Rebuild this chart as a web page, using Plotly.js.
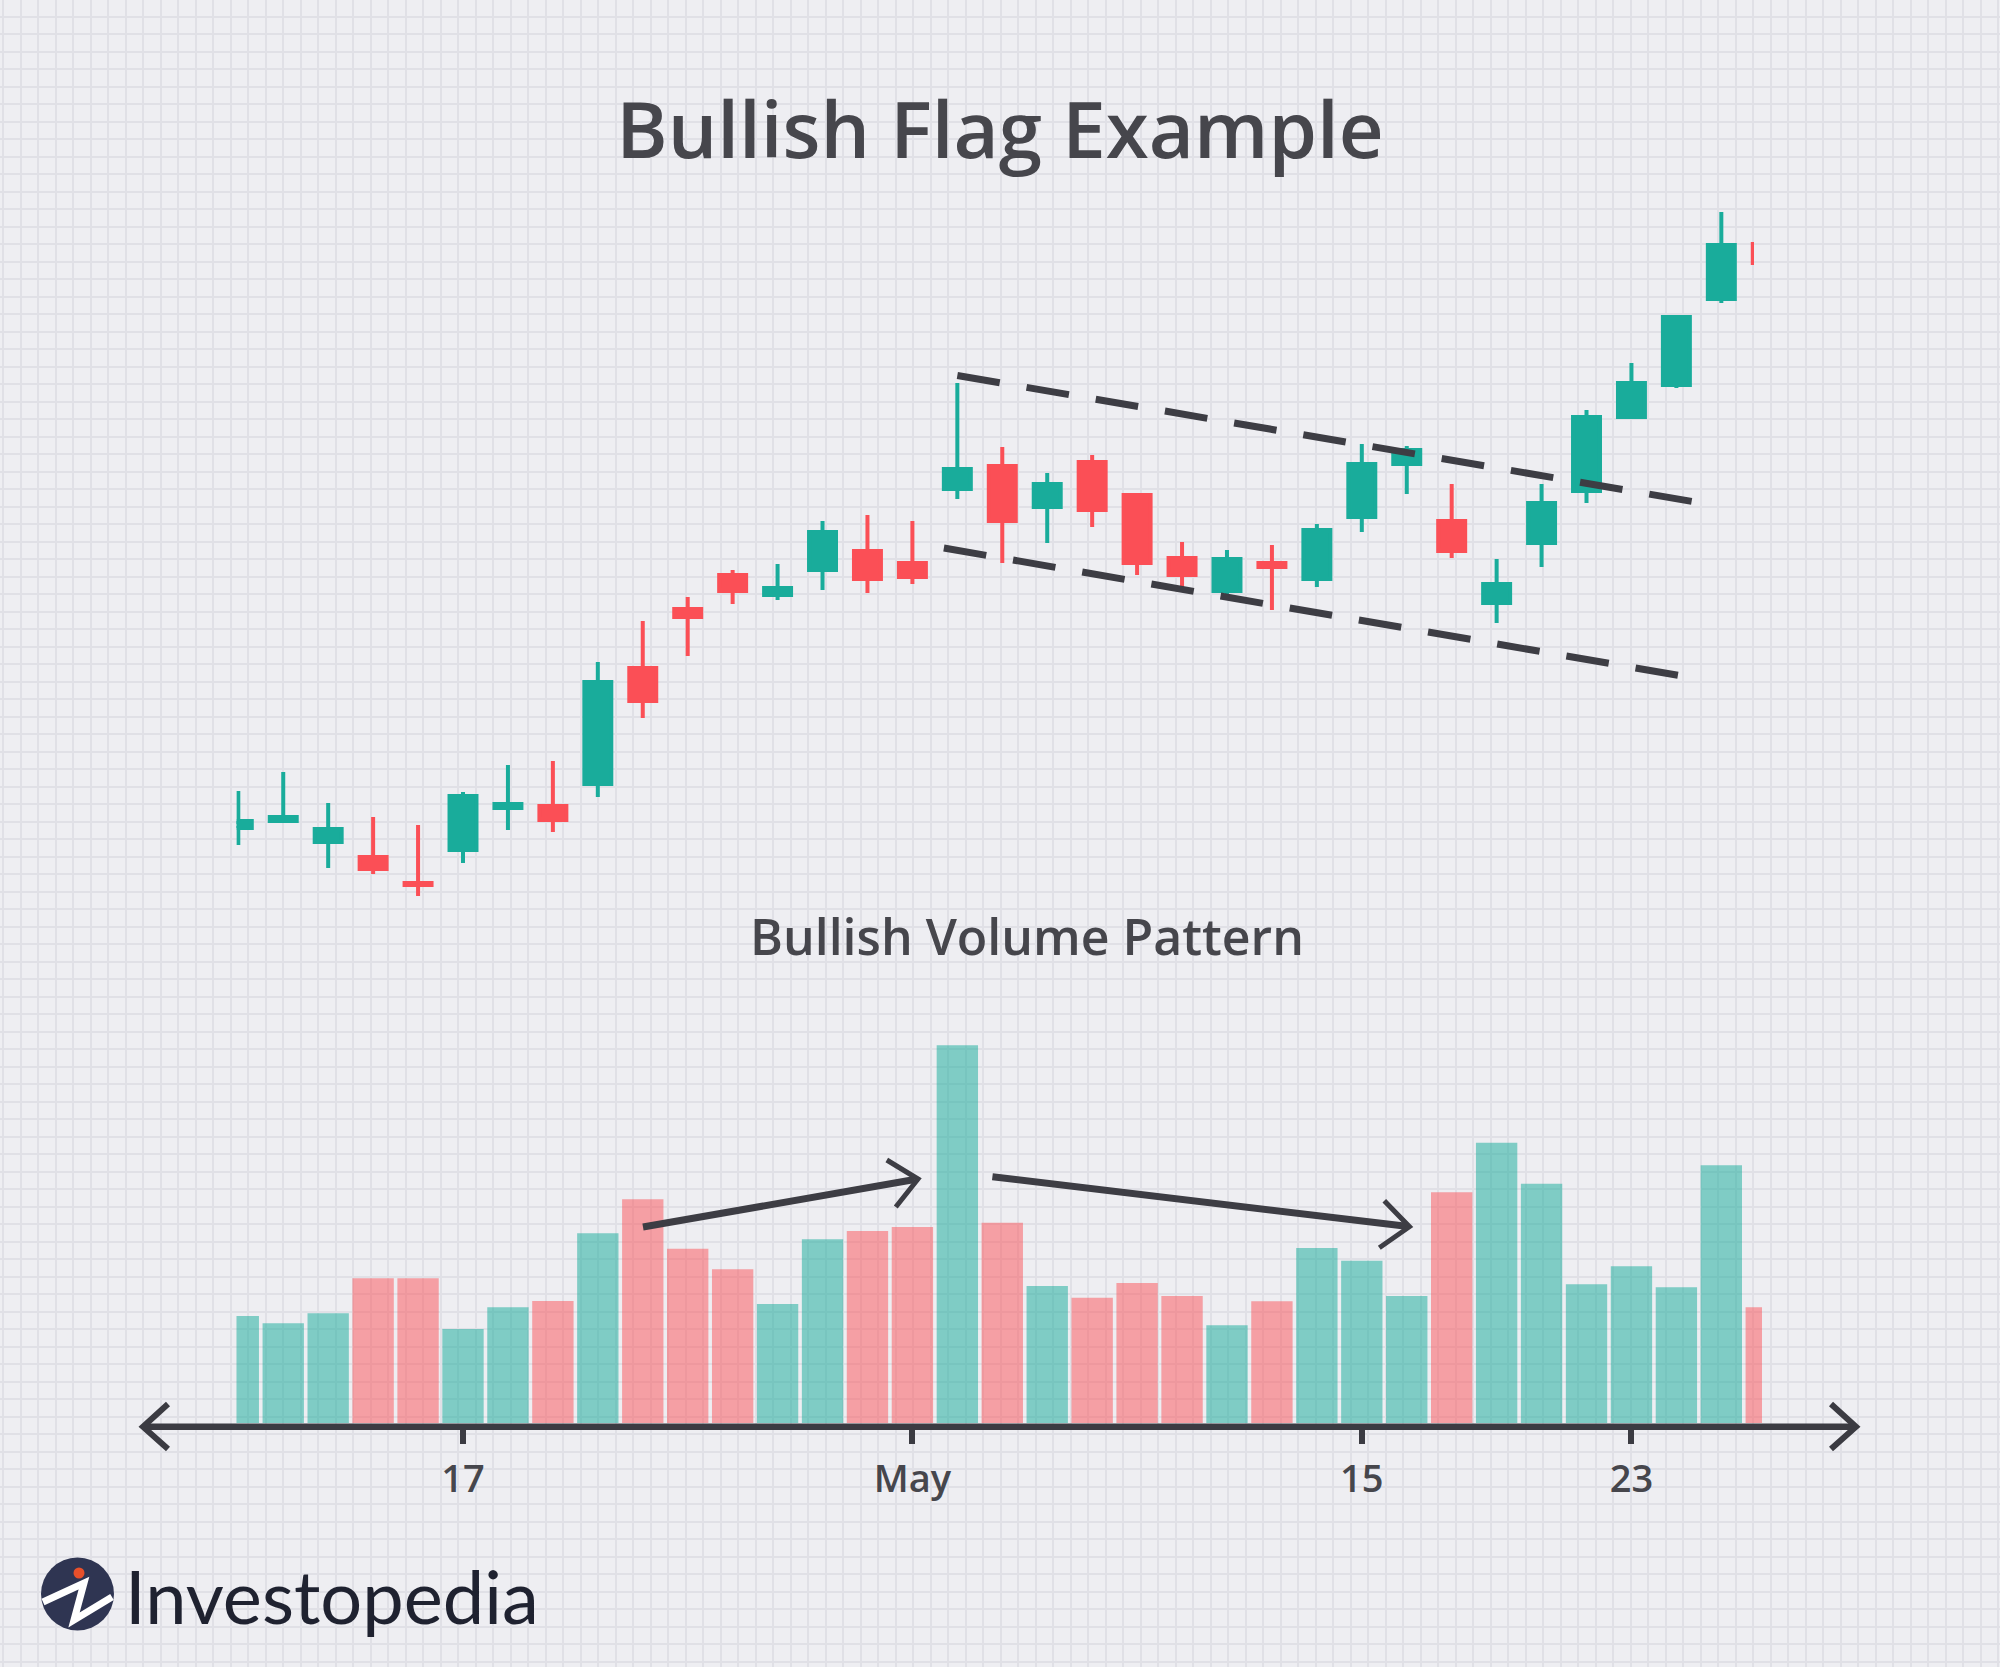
<!DOCTYPE html>
<html><head><meta charset="utf-8">
<script src="https://cdn.plot.ly/plotly-3.0.1.min.js"></script>
<style>html,body{margin:0;padding:0;background:#eeeef2;}#chart{width:2000px;height:1667px;}</style>
</head><body><div id="chart"></div>
<script>
const dates = [
 '2023-04-10','2023-04-11','2023-04-12','2023-04-13','2023-04-14',
 '2023-04-17','2023-04-18','2023-04-19','2023-04-20','2023-04-21',
 '2023-04-24','2023-04-25','2023-04-26','2023-04-27','2023-04-28',
 '2023-05-01','2023-05-02','2023-05-03','2023-05-04','2023-05-05',
 '2023-05-08','2023-05-09','2023-05-10','2023-05-11','2023-05-12',
 '2023-05-15','2023-05-16','2023-05-17','2023-05-18','2023-05-19',
 '2023-05-22','2023-05-23','2023-05-24','2023-05-25','2023-05-26'];
const opens  = [17.2,17.9,15.8,14.3,11.7, 15.0,19.2,19.4,21.6,33.2, 39.1,42.5,40.5,43.0,44.9, 43.7,51.1,53.4,49.3,53.8, 50.5,44.2,40.9,43.7,42.1, 48.3,53.6,47.9,39.7,45.7, 50.9,58.3,61.5,70.1,75.6];
const highs  = [20.9,22.8,19.7,18.3,17.5, 20.8,23.5,23.9,33.8,37.9, 40.3,43.0,43.6,47.9,48.5, 47.9,61.7,55.3,52.7,54.5, 50.5,45.8,45.0,45.5,47.6, 55.6,55.4,51.6,44.1,51.6, 59.0,63.7,68.5,78.8,76.0];
const lows   = [15.5,17.9,13.2,12.6,10.4, 13.7,17.0,16.8,20.3,28.2, 34.4,39.6,40.0,41.0,40.7, 41.6,50.1,43.7,45.7,47.3, 42.5,41.3,40.5,39.0,41.3, 46.8,50.6,44.2,37.7,43.3, 49.7,58.1,61.2,69.7,73.2];
const closes = [17.9,18.3,17.1,13.1,11.5, 20.4,19.6,18.0,31.8,29.9, 38.3,40.9,41.2,46.8,42.1, 42.3,53.1,47.9,51.6,49.0, 43.7,42.5,44.1,43.3,47.0, 53.6,55.0,44.9,41.6,49.7, 58.3,61.7,68.3,75.5,73.7];
const volumes = [4.28,3.99,4.39,5.79,5.79, 3.76,4.63,4.88,7.59,8.95, 6.97,6.15,4.76,7.35,7.68, 7.84,15.11,8.01,5.48,5.01, 5.60,5.08,3.91,4.87,7.00, 6.49,5.08,9.23,11.21,9.57, 5.55,6.27,5.43,10.31,4.63];
const tickDates  = ['2023-04-17','2023-05-01','2023-05-15','2023-05-23'];
const tickLabels = ['17','May','15','23'];
const titleText = 'Bullish Flag Example';
const volumeTitle = 'Bullish Volume Pattern';
const brandText = 'Investopedia';

const W = 2000, H = 1667;
const PX = x => x / W;
const PY = y => 1 - y / H;
const TEAL = '#19ac9b', RED = '#fb4f56';
const TEAL_V = 'rgba(25,172,155,0.52)', RED_V = 'rgba(251,79,86,0.50)';
const TEXT = '#46464c', AXIS = '#3b3b42', DASH = '#3d3d44';

const volColors = closes.map((c, i) => c >= opens[i] ? TEAL_V : RED_V);

const traces = [
  {type:'scatter', x:[-10], y:[-10], mode:'markers', marker:{opacity:0}, xaxis:'x', yaxis:'y', hoverinfo:'skip', showlegend:false},
  {type:'candlestick', x:dates, open:opens, high:highs, low:lows, close:closes, xaxis:'x2', yaxis:'y2',
   increasing:{line:{color:TEAL, width:4}, fillcolor:TEAL},
   decreasing:{line:{color:RED, width:4}, fillcolor:RED},
   whiskerwidth:0, hoverinfo:'skip', showlegend:false},
  {type:'bar', x:dates, y:volumes, xaxis:'x3', yaxis:'y3', marker:{color:volColors, line:{width:0}}, hoverinfo:'skip', showlegend:false}
];

const layout = {
  width:W, height:H, autosize:false,
  margin:{l:0, r:0, t:0, b:0, pad:0},
  paper_bgcolor:'#eeeef2', plot_bgcolor:'rgba(0,0,0,0)',
  showlegend:false,
  boxgap:0.4, boxgroupgap:0, bargap:0.08,
  title:{text:titleText, x:0.5, xanchor:'center', xref:'paper', yref:'container', y:PY(131), yanchor:'middle',
         font:{family:'Open Sans', size:78, weight:600, color:TEXT}},
  xaxis:{domain:[0,1], range:[0,W], tick0:3.3, dtick:17.5, showgrid:true, gridcolor:'#e0e0e6', gridwidth:2,
         showticklabels:false, ticks:'', zeroline:false, showline:false, fixedrange:true},
  yaxis:{domain:[0,1], range:[H,0], tick0:16.5, dtick:17.5, showgrid:true, gridcolor:'#e0e0e6', gridwidth:2,
         showticklabels:false, ticks:'', zeroline:false, showline:false, fixedrange:true},
  xaxis2:{type:'category', domain:[PX(236.5), PX(1754)], range:[-0.04, 33.727], anchor:'y2',
          rangeslider:{visible:false}, showgrid:false, zeroline:false, showline:false, showticklabels:false, ticks:'', fixedrange:true},
  yaxis2:{domain:[PY(1000), PY(150)], range:[0, 85], anchor:'x2',
          showgrid:false, zeroline:false, showline:false, showticklabels:false, ticks:'', fixedrange:true},
  xaxis3:{type:'category', domain:[PX(236.5), PX(1762)], range:[-0.04, 33.905], anchor:'y3',
          showgrid:false, zeroline:false, showline:false, fixedrange:true,
          ticks:'outside', ticklen:20, tickwidth:6, tickcolor:AXIS,
          tickmode:'array', tickvals:tickDates, ticktext:tickLabels, ticklabelstandoff:2,
          tickfont:{family:'Open Sans', size:38, weight:600, color:TEXT}},
  yaxis3:{domain:[PY(1423), PY(1000)], range:[0, 16.92], anchor:'x3',
          showgrid:false, zeroline:false, showline:false, showticklabels:false, ticks:'', fixedrange:true},
  shapes:[
    // flag trend lines
    {type:'line', xref:'x2', yref:'y2', x0:16.0, y0:62.45, x1:32.36, y1:49.85, line:{color:DASH, width:7, dash:'43px,27.2px'}},
    {type:'line', xref:'x2', yref:'y2', x0:15.70, y0:45.2, x1:32.06, y1:32.45, line:{color:DASH, width:7, dash:'43px,27.2px'}},
    // volume arrows
    {type:'line', xref:'x3', yref:'y3', x0:9.005, y0:7.84, x1:15.05, y1:9.74, line:{color:DASH, width:7}},
    {type:'path', xref:'x3', yref:'y3', path:'M 14.43 10.52 L 15.125 9.76 L 14.63 8.64', line:{color:DASH, width:5}},
    {type:'line', xref:'x3', yref:'y3', x0:16.78, y0:9.85, x1:25.99, y1:7.87, line:{color:DASH, width:7}},
    {type:'path', xref:'x3', yref:'y3', path:'M 25.50 8.89 L 26.06 7.85 L 25.39 7.01', line:{color:DASH, width:5}},
    // x axis line with arrows
    {type:'line', xref:'paper', yref:'paper', x0:PX(146), x1:PX(1852), y0:PY(1426.7), y1:PY(1426.7), line:{color:AXIS, width:6.5}},
    {type:'path', xref:'paper', yref:'paper', path:`M ${PX(168)} ${PY(1404)} L ${PX(143)} ${PY(1426.7)} L ${PX(168)} ${PY(1449)}`, line:{color:AXIS, width:6}},
    {type:'path', xref:'paper', yref:'paper', path:`M ${PX(1831)} ${PY(1404)} L ${PX(1856)} ${PY(1426.7)} L ${PX(1831)} ${PY(1449)}`, line:{color:AXIS, width:6}},
    // logo
    {type:'circle', xref:'paper', yref:'paper', x0:PX(41), x1:PX(114), y0:PY(1630.5), y1:PY(1557.5), fillcolor:'#2f3552', line:{width:0}},
    {type:'path', xref:'paper', yref:'paper', path:`M ${PX(43)} ${PY(1602)} L ${PX(84)} ${PY(1583)} L ${PX(74)} ${PY(1620)} L ${PX(112)} ${PY(1597)}`, line:{color:'#ffffff', width:7}},
    {type:'circle', xref:'paper', yref:'paper', x0:PX(73.5), x1:PX(84.5), y0:PY(1578.5), y1:PY(1567.5), fillcolor:'#e8502a', line:{width:0}}
  ],
  annotations:[
    {text:volumeTitle, xref:'paper', yref:'paper', x:PX(1027), y:PY(936), xanchor:'center', yanchor:'middle', showarrow:false,
     font:{family:'Open Sans', size:50, weight:600, color:TEXT}},
    {text:brandText, xref:'paper', yref:'paper', x:PX(123), y:PY(1595), xanchor:'left', yanchor:'middle', showarrow:false,
     font:{family:'Lato', size:74, weight:400, color:'#1f2230'}}
  ]
};

Plotly.newPlot('chart', traces, layout, {staticPlot:true, displayModeBar:false});
</script>
</body></html>
